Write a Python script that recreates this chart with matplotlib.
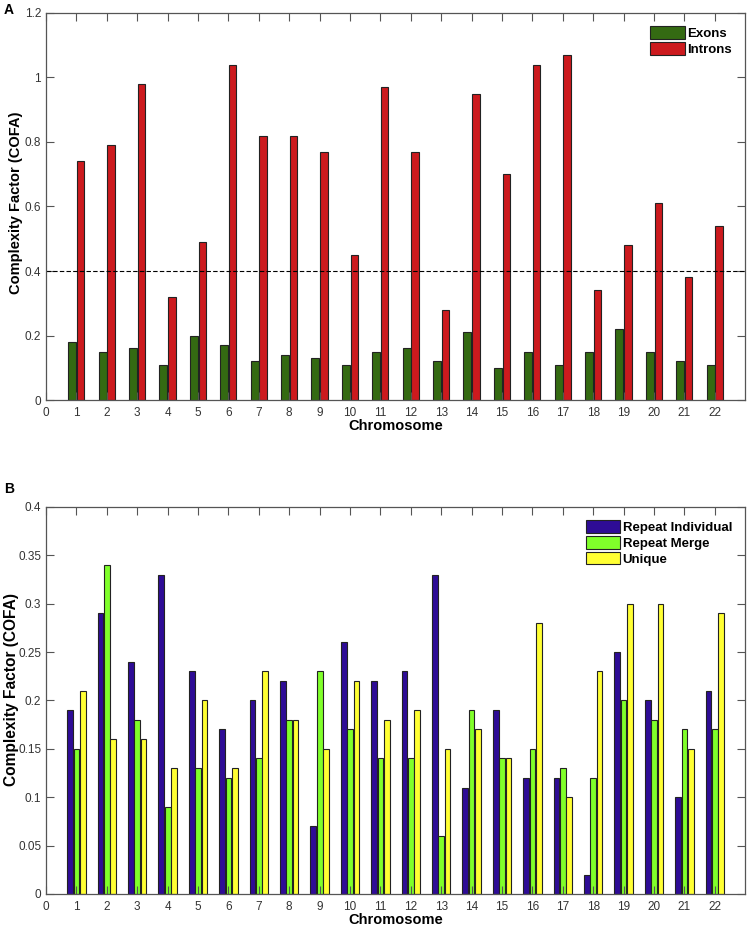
import numpy as np
import matplotlib
matplotlib.use('Agg')
import matplotlib.pyplot as plt

plt.rcParams['font.family'] = ['Liberation Sans', 'DejaVu Sans']

chromosomes = np.arange(1, 23)

# panel A
exons = [0.18, 0.15, 0.16, 0.11, 0.20, 0.17, 0.12, 0.14, 0.13, 0.11, 0.15,
         0.16, 0.12, 0.21, 0.10, 0.15, 0.11, 0.15, 0.22, 0.15, 0.12, 0.11]
introns = [0.74, 0.79, 0.98, 0.32, 0.49, 1.04, 0.82, 0.82, 0.77, 0.45, 0.97,
           0.77, 0.28, 0.95, 0.70, 1.04, 1.07, 0.34, 0.48, 0.61, 0.38, 0.54]
threshold = 0.4

# panel B
repeat_individual = [0.19, 0.29, 0.24, 0.33, 0.23, 0.17, 0.20, 0.22, 0.07, 0.26, 0.22,
                     0.23, 0.33, 0.11, 0.19, 0.12, 0.12, 0.02, 0.25, 0.20, 0.10, 0.21]
repeat_merge = [0.15, 0.34, 0.18, 0.09, 0.13, 0.12, 0.14, 0.18, 0.23, 0.17, 0.14,
                0.14, 0.06, 0.19, 0.14, 0.15, 0.13, 0.12, 0.20, 0.18, 0.17, 0.17]
unique = [0.21, 0.16, 0.16, 0.13, 0.20, 0.13, 0.23, 0.18, 0.15, 0.22, 0.18,
          0.19, 0.15, 0.17, 0.14, 0.28, 0.10, 0.23, 0.30, 0.30, 0.15, 0.29]

ticks_a = [0, 0.2, 0.4, 0.6, 0.8, 1.0, 1.2]
ticklabels_a = ['0', '0.2', '0.4', '0.6', '0.8', '1', '1.2']
ticks_b = [0, 0.05, 0.1, 0.15, 0.2, 0.25, 0.3, 0.35, 0.4]
ticklabels_b = ['0', '0.05', '0.1', '0.15', '0.2', '0.25', '0.3', '0.35', '0.4']

fig = plt.figure(figsize=(7.47, 9.26), dpi=100)
axA = fig.add_axes([0.0616, 0.568, 0.936, 0.418])
axB = fig.add_axes([0.0616, 0.0346, 0.936, 0.418])

edge = '#222222'
axA.bar(chromosomes - 0.14, exons, width=0.26, color='#346a12', edgecolor=edge,
        linewidth=0.8, label='Exons')
axA.bar(chromosomes + 0.14, introns, width=0.24, color='#cc1a1e', edgecolor=edge,
        linewidth=0.8, label='Introns')
axA.axhline(threshold, color='black', linestyle='--', linewidth=0.8, dashes=(4, 2))

axB.bar(chromosomes - 0.21, repeat_individual, width=0.19, color='#2e0c96',
        edgecolor=edge, linewidth=0.8, label='Repeat Individual')
axB.bar(chromosomes, repeat_merge, width=0.19, color='#80ff2a',
        edgecolor=edge, linewidth=0.8, label='Repeat Merge')
axB.bar(chromosomes + 0.21, unique, width=0.19, color='#ffff33',
        edgecolor=edge, linewidth=0.8, label='Unique')

panels = [(axA, ticks_a, ticklabels_a, 1.2, (-0.033, 0.51), 10.5),
          (axB, ticks_b, ticklabels_b, 0.4, (-0.039, 0.527), 11.2)]
for ax, ticks, labels, top, ylpos, ylsize in panels:
    ax.set_xlim(0, 23)
    ax.set_ylim(0, top)
    ax.set_xticks(range(0, 23))
    ax.set_yticks(ticks)
    ax.set_yticklabels(labels)
    ax.tick_params(direction='in', top=True, right=True, length=6, width=0.8,
                   color='#555555', labelcolor='#333333', labelsize=8.5)
    ax.tick_params(axis='x', pad=5)
    for s in ax.spines.values():
        s.set_color('#555555')
        s.set_linewidth(0.9)
    ax.set_xlabel('Chromosome', fontsize=10.5, fontweight='bold', labelpad=0)
    ax.set_ylabel('Complexity Factor (COFA)', fontsize=ylsize, fontweight='bold')
    ax.yaxis.set_label_coords(*ylpos)
    ax.legend(loc='upper right', frameon=False, handlelength=2.6,
              handleheight=1.1, handletextpad=0.2, labelspacing=0.15,
              borderaxespad=0.6, prop={'weight': 'bold', 'size': 9.5})

fig.text(0.005, 0.997, 'A', fontsize=10, fontweight='bold', va='top')
fig.text(0.005, 0.479, 'B', fontsize=10, fontweight='bold', va='top')

fig.savefig('out.png', dpi=100)
